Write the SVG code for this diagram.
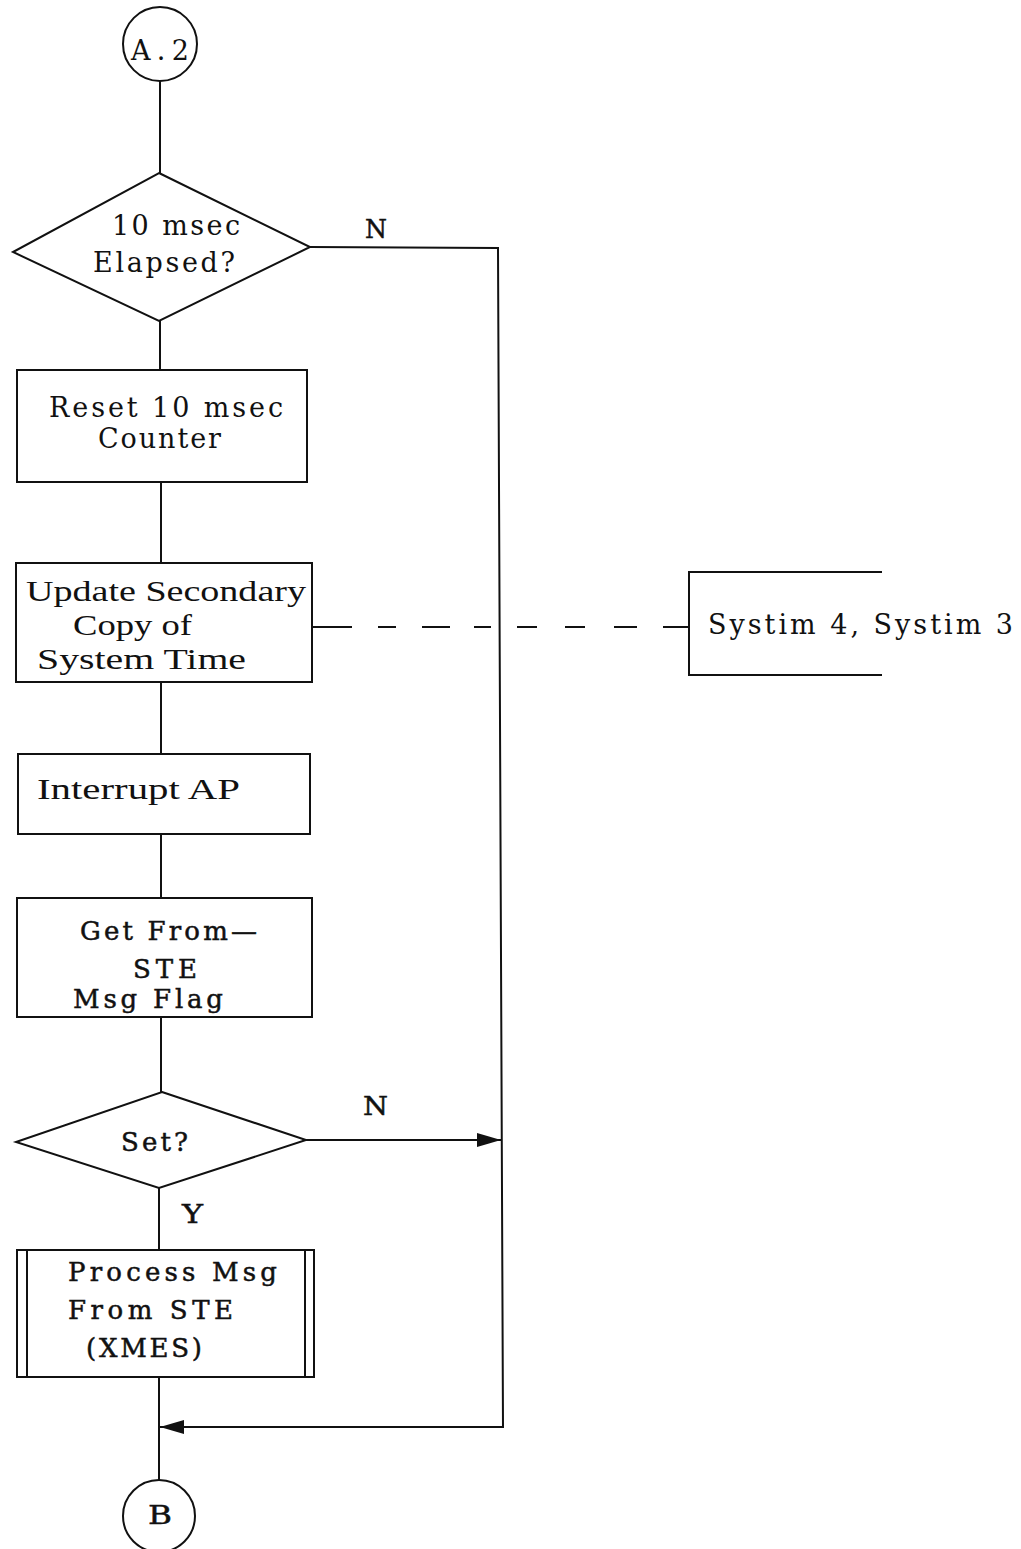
<svg xmlns="http://www.w3.org/2000/svg" width="1021" height="1549" viewBox="0 0 1021 1549">
<style>
.s{fill:none;stroke:#111;stroke-width:2}
.t{font-family:"DejaVu Serif","Liberation Serif",serif;font-size:27px;fill:#111}
.c{font-family:"Liberation Serif",serif;font-size:29px;fill:#111}
.h{font-family:"DejaVu Serif","Liberation Serif",serif;font-size:26px;fill:#111;stroke:#111;stroke-width:0.5}
</style>
<defs>
<marker id="ah" markerWidth="24" markerHeight="14" refX="24" refY="7" orient="auto" markerUnits="userSpaceOnUse">
<path d="M0,0 L24,7 L0,14 Z" fill="#111"/>
</marker>
</defs>
<rect width="1021" height="1549" fill="#fff"/>
<g id="connectors">
<line class="s" x1="160" y1="80" x2="160" y2="173"/>
<line class="s" x1="160" y1="321" x2="160" y2="370"/>
<line class="s" x1="161" y1="482" x2="161" y2="563"/>
<line class="s" x1="161" y1="682" x2="161" y2="754"/>
<line class="s" x1="161" y1="834" x2="161" y2="898"/>
<line class="s" x1="161" y1="1017" x2="161" y2="1092"/>
<line class="s" x1="159" y1="1188" x2="159" y2="1250"/>
<line class="s" x1="159" y1="1377" x2="159" y2="1480"/>
<polyline class="s" points="310,247 498,248 503,1427 160,1427"/>
<line class="s" x1="503" y1="1427" x2="160" y2="1427" marker-end="url(#ah)"/>
<line class="s" x1="306" y1="1140" x2="501" y2="1140" marker-end="url(#ah)"/>
<line class="s" x1="312" y1="627" x2="689" y2="627" stroke-dasharray="40 26 18 26 28 24 17 26 20 28 20 29 23 26 28"/>
<text class="h" x="365" y="238" textLength="22" lengthAdjust="spacingAndGlyphs">N</text>
<text class="h" x="363" y="1115" textLength="25" lengthAdjust="spacingAndGlyphs">N</text>
<text class="h" x="182" y="1223" textLength="21" lengthAdjust="spacingAndGlyphs">Y</text>
</g>
<g id="startA2">
<circle class="s" cx="160" cy="44" r="37"/>
<text class="t" x="131" y="60" textLength="58" lengthAdjust="spacing" style="font-size:27px">A.2</text>
</g>
<g id="decision10ms">
<polygon class="s" points="159,173 310,247 159,321 13,252"/>
<text class="t" x="112" y="235" textLength="128" lengthAdjust="spacing">10 msec</text>
<text class="t" x="93" y="272" textLength="142" lengthAdjust="spacing">Elapsed?</text>
</g>
<g id="resetCounter">
<rect class="s" x="17" y="370" width="290" height="112"/>
<text class="t" x="49" y="417" textLength="234" lengthAdjust="spacing">Reset 10 msec</text>
<text class="t" x="98" y="448" textLength="123" lengthAdjust="spacing">Counter</text>
</g>
<g id="updateSecondary">
<rect class="s" x="16" y="563" width="296" height="119"/>
<text class="c" x="26" y="601" textLength="280" lengthAdjust="spacingAndGlyphs">Update Secondary</text>
<text class="c" x="73" y="635" textLength="119" lengthAdjust="spacingAndGlyphs">Copy of</text>
<text class="c" x="37" y="669" textLength="209" lengthAdjust="spacingAndGlyphs">System Time</text>
</g>
<g id="systim">
<polyline class="s" points="882,572 689,572 689,675 882,675"/>
<text class="t" x="708" y="634" textLength="305" lengthAdjust="spacing">Systim 4, Systim 3</text>
</g>
<g id="interruptAP">
<rect class="s" x="18" y="754" width="292" height="80"/>
<text class="c" x="37" y="799" textLength="203" lengthAdjust="spacingAndGlyphs">Interrupt AP</text>
</g>
<g id="getFlag">
<rect class="s" x="17" y="898" width="295" height="119"/>
<text class="h" x="80" y="940" textLength="177" lengthAdjust="spacing">Get From—</text>
<text class="h" x="133" y="978" textLength="64" lengthAdjust="spacing">STE</text>
<text class="h" x="73" y="1008" textLength="150" lengthAdjust="spacing">Msg Flag</text>
</g>
<g id="decisionSet">
<polygon class="s" points="162,1092 306,1140 159,1188 16,1142"/>
<text class="h" x="121" y="1151" textLength="67" lengthAdjust="spacing">Set?</text>
</g>
<g id="processMsg">
<rect class="s" x="17" y="1250" width="297" height="127"/>
<line class="s" x1="27" y1="1250" x2="27" y2="1377"/>
<line class="s" x1="305" y1="1250" x2="305" y2="1377"/>
<text class="h" x="68" y="1281" textLength="209" lengthAdjust="spacing">Process Msg</text>
<text class="h" x="68" y="1319" textLength="165" lengthAdjust="spacing">From STE</text>
<text class="h" x="86" y="1357" textLength="116" lengthAdjust="spacing">(XMES)</text>
</g>
<g id="endB">
<circle class="s" cx="159" cy="1516" r="36"/>
<text class="h" x="148" y="1524" textLength="24" lengthAdjust="spacingAndGlyphs">B</text>
</g>
</svg>
